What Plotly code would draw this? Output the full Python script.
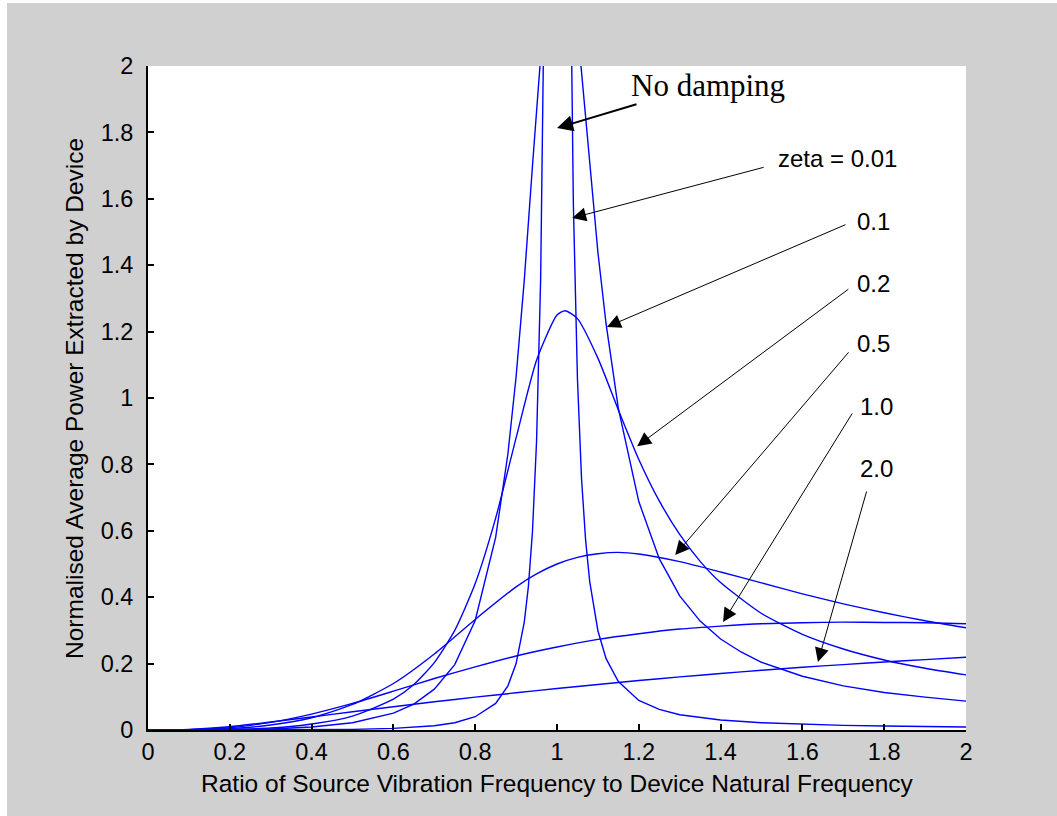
import plotly.graph_objects as go

# Frequency ratio grids and normalised power for each damping ratio
r_z001 = [0, 0.2, 0.4, 0.5, 0.6, 0.7, 0.75, 0.8, 0.85, 0.88, 0.9, 0.92, 0.93, 0.94,
          0.95, 0.96, 0.97, 0.98, 0.99, 1.0, 1.01, 1.02, 1.03, 1.04, 1.05, 1.06, 1.07,
          1.08, 1.1, 1.12, 1.15, 1.2, 1.25, 1.3, 1.4, 1.5, 1.6, 1.7, 1.8, 1.9, 2.0]
p_z001 = [0, 0.0, 0.001, 0.002, 0.005, 0.013, 0.022, 0.040, 0.080, 0.133, 0.200, 0.325,
          0.432, 0.597, 0.869, 1.358, 2.359, 4.82, 12.3, 25.0, 12.7, 5.18, 2.64, 1.586,
          1.057, 0.757, 0.571, 0.447, 0.299, 0.215, 0.146, 0.089, 0.062, 0.046, 0.030,
          0.022, 0.017, 0.014, 0.012, 0.010, 0.009]

r_z01 = [0, 0.1, 0.2, 0.3, 0.4, 0.5, 0.6, 0.65, 0.7, 0.75, 0.8, 0.85, 0.88, 0.9, 0.92,
         0.94, 0.96, 0.98, 1.0, 1.02, 1.04, 1.06, 1.08, 1.1, 1.12, 1.15, 1.2, 1.25, 1.3,
         1.35, 1.4, 1.45, 1.5, 1.6, 1.7, 1.8, 1.9, 2.0]
p_z01 = [0, 0.0, 0.001, 0.003, 0.009, 0.022, 0.051, 0.078, 0.123, 0.197, 0.330, 0.580,
         0.832, 1.064, 1.355, 1.699, 2.057, 2.354, 2.5, 2.454, 2.253, 1.978, 1.694, 1.439,
         1.223, 0.969, 0.688, 0.516, 0.404, 0.328, 0.274, 0.235, 0.204, 0.162, 0.133,
         0.113, 0.099, 0.087]

r_z02 = [0, 0.1, 0.2, 0.3, 0.4, 0.5, 0.6, 0.65, 0.7, 0.75, 0.8, 0.85, 0.9, 0.95, 1.0,
         1.02, 1.05, 1.1, 1.15, 1.2, 1.25, 1.3, 1.35, 1.4, 1.5, 1.6, 1.7, 1.8, 1.9, 2.0]
p_z02 = [0, 0.0, 0.002, 0.006, 0.018, 0.042, 0.093, 0.137, 0.203, 0.300, 0.441, 0.638,
         0.880, 1.114, 1.250, 1.263, 1.239, 1.120, 0.964, 0.815, 0.690, 0.589, 0.508,
         0.444, 0.351, 0.288, 0.244, 0.211, 0.186, 0.166]

r_z05 = [0, 0.1, 0.2, 0.3, 0.4, 0.5, 0.6, 0.7, 0.8, 0.9, 0.95, 1.0, 1.05, 1.1, 1.15,
         1.2, 1.3, 1.4, 1.5, 1.6, 1.7, 1.8, 1.9, 2.0]
p_z05 = [0, 0.001, 0.004, 0.015, 0.037, 0.077, 0.140, 0.229, 0.333, 0.431, 0.470, 0.500,
         0.520, 0.531, 0.535, 0.530, 0.507, 0.476, 0.443, 0.410, 0.380, 0.353, 0.329, 0.308]

r_z10 = [0, 0.1, 0.2, 0.3, 0.4, 0.5, 0.6, 0.7, 0.8, 0.9, 1.0, 1.1, 1.2, 1.3, 1.4, 1.5,
         1.6, 1.7, 1.8, 1.9, 2.0]
p_z10 = [0, 0.001, 0.007, 0.023, 0.048, 0.080, 0.117, 0.155, 0.190, 0.223, 0.250, 0.273,
         0.290, 0.304, 0.313, 0.320, 0.323, 0.325, 0.324, 0.323, 0.320]

r_z20 = [0, 0.1, 0.2, 0.3, 0.4, 0.5, 0.6, 0.7, 0.8, 0.9, 1.0, 1.1, 1.2, 1.3, 1.4, 1.5,
         1.6, 1.7, 1.8, 1.9, 2.0]
p_z20 = [0, 0.002, 0.010, 0.024, 0.039, 0.055, 0.070, 0.085, 0.099, 0.112, 0.125, 0.137,
         0.149, 0.160, 0.170, 0.180, 0.189, 0.197, 0.205, 0.212, 0.219]

tick_vals = [0, 0.2, 0.4, 0.6, 0.8, 1.0, 1.2, 1.4, 1.6, 1.8, 2.0]
tick_text = ["0", "0.2", "0.4", "0.6", "0.8", "1", "1.2", "1.4", "1.6", "1.8", "2"]

# Callout labels: text, text position, arrow tail, arrow tip (data units)
labels = ["zeta = 0.01", "0.1", "0.2", "0.5", "1.0", "2.0"]
label_x = [1.687, 1.775, 1.775, 1.775, 1.780, 1.780]
label_y = [1.720, 1.533, 1.346, 1.163, 0.973, 0.789]
tail_x = [1.509, 1.709, 1.716, 1.716, 1.724, 1.758]
tail_y = [1.696, 1.524, 1.331, 1.142, 0.958, 0.723]
tip_x = [1.037, 1.122, 1.196, 1.289, 1.406, 1.638]
tip_y = [1.542, 1.214, 0.855, 0.527, 0.325, 0.205]

SANS = "Arial, Liberation Sans, sans-serif"
SERIF = "Times New Roman, Liberation Serif, serif"
BLUE = "#0000ff"

fig = go.Figure()
series = [
    (r_z001, p_z001, "linear"),
    (r_z01, p_z01, "linear"),
    (r_z02, p_z02, "spline"),
    (r_z05, p_z05, "spline"),
    (r_z10, p_z10, "spline"),
    (r_z20, p_z20, "spline"),
]
for rx, py, shape in series:
    fig.add_trace(go.Scatter(
        x=rx, y=py, mode="lines",
        line=dict(color=BLUE, width=1.4, shape=shape, smoothing=0.6),
        showlegend=False, hoverinfo="skip", cliponaxis=True,
    ))

annotations = []
for t, lx, ly in zip(labels, label_x, label_y):
    annotations.append(dict(
        x=lx, y=ly, xref="x", yref="y", text=t, showarrow=False,
        font=dict(family=SANS, size=24, color="black"),
        xanchor="center", yanchor="middle",
    ))
for ax_, ay_, x_, y_ in zip(tail_x, tail_y, tip_x, tip_y):
    annotations.append(dict(
        x=x_, y=y_, xref="x", yref="y", ax=ax_, ay=ay_, axref="x", ayref="y",
        text="", showarrow=True, arrowhead=2, arrowsize=2.8, arrowwidth=1,
        arrowcolor="black", standoff=0, startstandoff=0,
    ))

# "No damping" callout
annotations.append(dict(
    x=1.369, y=1.940, xref="x", yref="y", text="No damping", showarrow=False,
    font=dict(family=SERIF, size=31, color="black"),
    xanchor="center", yanchor="middle",
))
annotations.append(dict(
    x=1.0, y=1.813, xref="x", yref="y", ax=1.198, ay=1.886, axref="x", ayref="y",
    text="", showarrow=True, arrowhead=2, arrowsize=1.6, arrowwidth=2,
    arrowcolor="black", standoff=0, startstandoff=0,
))

# Axis titles
annotations.append(dict(
    x=0.5, y=-0.0813, xref="paper", yref="paper",
    text="Ratio of Source Vibration Frequency to Device Natural Frequency",
    showarrow=False, font=dict(family=SANS, size=24.5, color="black"),
    xanchor="center", yanchor="middle",
))
annotations.append(dict(
    x=-0.0905, y=0.5, xref="paper", yref="paper",
    text="Normalised Average Power Extracted by Device", textangle=-90,
    showarrow=False, font=dict(family=SANS, size=24.5, color="black"),
    xanchor="center", yanchor="middle",
))

axis_common = dict(
    range=[0, 2], tickvals=tick_vals, ticktext=tick_text,
    ticks="inside", ticklen=6, tickwidth=1.5, tickcolor="black",
    showline=True, linecolor="black", linewidth=2, mirror=False,
    showgrid=False, zeroline=False,
    tickfont=dict(family=SANS, size=23.5, color="black"),
)

fig.update_layout(
    width=1057, height=816,
    margin=dict(l=148, r=91, t=66, b=86, autoexpand=False),
    paper_bgcolor="#d0d0d0", plot_bgcolor="white",
    xaxis=dict(axis_common, ticklabelstandoff=0),
    yaxis=dict(axis_common, ticklabelstandoff=8),
    annotations=annotations,
    shapes=[
        dict(type="rect", xref="paper", yref="paper",
             x0=-148 / 818, x1=(7 - 148) / 818, y0=-86 / 664, y1=1 + 66 / 664,
             fillcolor="white", line=dict(width=0), layer="below"),
        dict(type="rect", xref="paper", yref="paper",
             x0=-148 / 818, x1=1 + 91 / 818, y0=(730 - 3) / 664, y1=1 + 66 / 664,
             fillcolor="white", line=dict(width=0), layer="below"),
    ],
)

fig.write_html("out.html")
